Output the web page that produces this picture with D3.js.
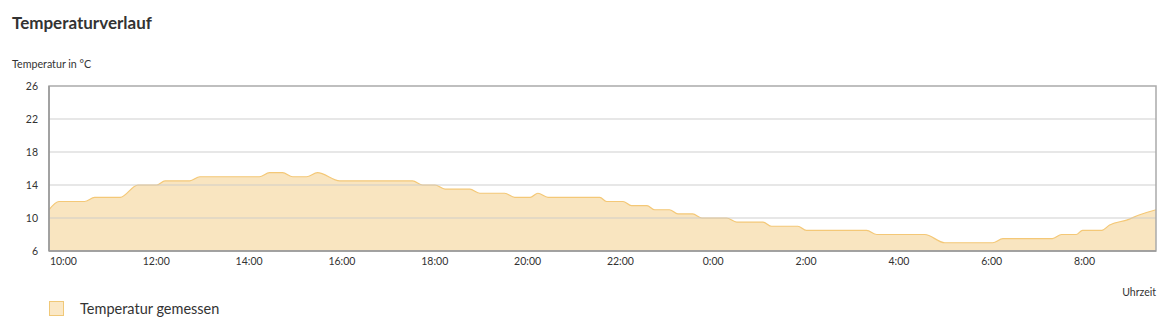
<!DOCTYPE html>
<html>
<head>
<meta charset="utf-8">
<script src="https://cdn.jsdelivr.net/npm/d3@7"></script>
<style>
  body { margin: 0; background: #fff; }
  text { font-family: Lato, "Noto Sans", sans-serif; fill: #333; }
</style>
</head>
<body>
<div id="chart"></div>
<script>
var times = ["09:42", "09:55", "10:28", "10:41", "11:14", "11:37", "12:01", "12:12", "12:44", "12:57",
  "14:14", "14:27", "14:44", "14:57", "15:15", "15:29", "15:58", "17:32", "17:45", "18:01",
  "18:14", "18:46", "18:59", "19:31", "19:44", "20:04", "20:14", "20:27", "21:34", "21:43",
  "22:04", "22:15", "22:35", "22:45", "23:04", "23:15", "23:34", "23:46", "00:18", "00:31",
  "01:05", "01:16", "01:50", "02:01", "03:19", "03:32", "04:34", "05:00", "06:02", "06:15",
  "07:19", "07:31", "07:50", "07:58", "08:23", "08:33", "08:55", "09:12", "09:33"];
var temps = [11.0, 12.0, 12.0, 12.5, 12.5, 14.0, 14.0, 14.5, 14.5, 15.0,
  15.0, 15.5, 15.5, 15.0, 15.0, 15.5, 14.5, 14.5, 14.0, 14.0,
  13.5, 13.5, 13.0, 13.0, 12.5, 12.5, 13.0, 12.5, 12.5, 12.0,
  12.0, 11.5, 11.5, 11.0, 11.0, 10.5, 10.5, 10.0, 10.0, 9.5,
  9.5, 9.0, 9.0, 8.5, 8.5, 8.0, 8.0, 7.0, 7.0, 7.5,
  7.5, 8.0, 8.0, 8.5, 8.5, 9.15, 9.75, 10.4, 11.0];
var yTicks = [6, 10, 14, 18, 22, 26];
var xTickLabels = ["10:00", "12:00", "14:00", "16:00", "18:00", "20:00", "22:00", "0:00", "2:00", "4:00", "6:00", "8:00"];

var svgWidth = 1172;
var svgHeight = 322;
var margin = { top: 86, right: 16, bottom: 71, left: 49 };
var width = svgWidth - margin.left - margin.right;
var height = svgHeight - margin.top - margin.bottom;

var svg = d3.select("#chart")
  .append("svg")
  .attr("width", svgWidth)
  .attr("height", svgHeight);

// turn "HH:MM" into a date, rolling over to the next day after midnight
var parse = d3.timeParse("%H:%M");
var data = [];
var dayOffset = 0;
var prev = null;
times.forEach(function(t, i) {
  var d = parse(t);
  if (prev && d < prev) dayOffset = 1;
  prev = d;
  data.push({ date: d3.timeDay.offset(d, dayOffset), temp: temps[i] });
});

var start = data[0].date;
var end = data[data.length - 1].date;

var xScale = d3.scaleTime().domain([start, end]).range([0, width]);
var yScale = d3.scaleLinear().domain([6, 26]).range([height, 0]);

var chartGroup = svg.append("g")
  .attr("transform", `translate(${margin.left}, ${margin.top})`);

// title and axis titles
svg.append("text")
  .attr("x", 12).attr("y", 29)
  .attr("font-size", "17px")
  .attr("font-weight", "bold")
  .text("Temperaturverlauf");

svg.append("text")
  .attr("x", 12).attr("y", 68)
  .attr("font-size", "10.7px")
  .text("Temperatur in °C");

// area first, gridlines over it
var area = d3.area()
  .x(d => xScale(d.date))
  .y0(height)
  .y1(d => yScale(d.temp))
  .curve(d3.curveMonotoneX);

var line = d3.line()
  .x(d => xScale(d.date))
  .y(d => yScale(d.temp))
  .curve(d3.curveMonotoneX);

chartGroup.append("path")
  .datum(data)
  .attr("d", area)
  .attr("fill", "#f9e5c0");

chartGroup.append("path")
  .datum(data)
  .attr("d", line)
  .attr("fill", "none")
  .attr("stroke", "#f4c877")
  .attr("stroke-width", 1.2);

chartGroup.selectAll(".grid")
  .data(yTicks.slice(1, -1))
  .enter()
  .append("line")
  .attr("x1", 0).attr("x2", width)
  .attr("y1", d => yScale(d)).attr("y2", d => yScale(d))
  .attr("stroke", "#c8c8c8")
  .attr("stroke-opacity", 0.6)
  .attr("stroke-width", 1.3);

// frame
chartGroup.append("rect")
  .attr("width", width).attr("height", height)
  .attr("fill", "none")
  .attr("stroke", "#aaaaaa")
  .attr("stroke-width", 1.5);

chartGroup.append("line")
  .attr("x1", 0).attr("x2", 0).attr("y1", 0).attr("y2", height)
  .attr("stroke", "#999").attr("stroke-width", 1.5);
chartGroup.append("line")
  .attr("x1", 0).attr("x2", width).attr("y1", height).attr("y2", height)
  .attr("stroke", "#999").attr("stroke-width", 1.5);

// y axis labels
var leftAxis = d3.axisLeft(yScale).tickValues(yTicks).tickSize(0).tickPadding(11);
chartGroup.append("g")
  .call(leftAxis)
  .call(g => g.select(".domain").remove())
  .selectAll("text")
  .attr("font-size", "10.5px")
  .attr("font-family", "Lato, 'Noto Sans', sans-serif")
  .attr("fill", "#333");

// x axis labels at every 2 hours
var xTickDates = d3.timeHour.every(2).range(start, end);
var bottomAxis = d3.axisBottom(xScale)
  .tickValues(xTickDates)
  .tickFormat((d, i) => xTickLabels[i])
  .tickSize(0).tickPadding(7);
chartGroup.append("g")
  .attr("transform", `translate(0, ${height})`)
  .call(bottomAxis)
  .call(g => g.select(".domain").remove())
  .selectAll("text")
  .attr("font-size", "10.5px")
  .attr("font-family", "Lato, 'Noto Sans', sans-serif")
  .attr("fill", "#333");

svg.append("text")
  .attr("x", margin.left + width).attr("y", 296)
  .attr("text-anchor", "end")
  .attr("font-size", "10.5px")
  .text("Uhrzeit");

// legend
svg.append("rect")
  .attr("x", 49.5).attr("y", 301.5)
  .attr("width", 14).attr("height", 14)
  .attr("fill", "#fbe8c6")
  .attr("stroke", "#f0c878");

svg.append("text")
  .attr("x", 80).attr("y", 314)
  .attr("font-size", "14.5px")
  .text("Temperatur gemessen");
</script>
</body>
</html>
